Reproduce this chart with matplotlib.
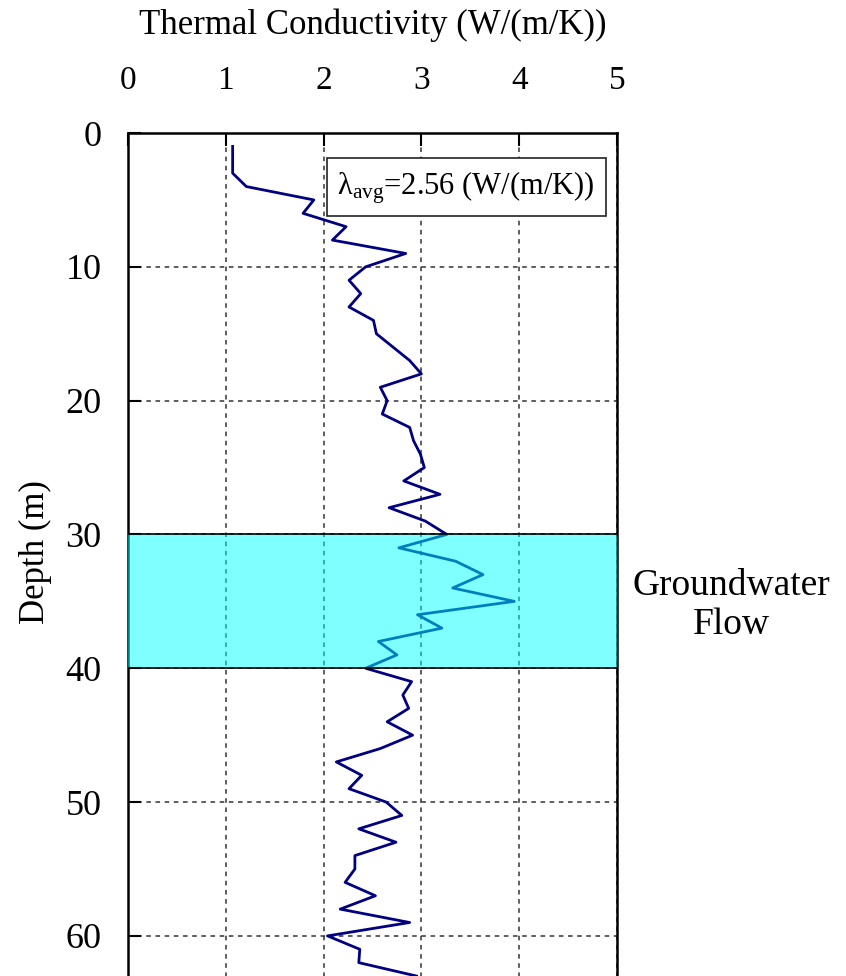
import matplotlib
matplotlib.use('Agg')
import matplotlib.pyplot as plt

plt.rcParams['font.family'] = ['Liberation Serif', 'DejaVu Serif']
plt.rcParams['mathtext.fontset'] = 'custom'
plt.rcParams['mathtext.rm'] = 'Liberation Serif'
plt.rcParams['mathtext.it'] = 'Liberation Serif:italic'

# thermal conductivity profile
depth = [1, 3, 4, 5, 6, 7, 8, 9, 10, 11, 12, 13, 14, 15, 16, 17, 18, 19, 20,
         21, 22, 23, 24, 25, 26, 27, 28, 29, 30, 31, 32, 33, 34, 35, 36, 37,
         38, 39, 40, 41, 42, 43, 44, 45, 46, 47, 48, 49, 50, 51, 52, 53, 54,
         55, 56, 57, 58, 59, 60, 61, 62, 63]
conductivity = [1.07, 1.07, 1.21, 1.90, 1.79, 2.23, 2.09, 2.84, 2.43, 2.26,
                2.38, 2.26, 2.51, 2.54, 2.71, 2.88, 3.00, 2.58, 2.65, 2.60,
                2.88, 2.92, 2.99, 3.03, 2.82, 3.19, 2.67, 3.04, 3.26, 2.77,
                3.35, 3.63, 3.32, 3.95, 2.96, 3.21, 2.56, 2.75, 2.43, 2.90,
                2.81, 2.87, 2.65, 2.91, 2.58, 2.13, 2.39, 2.26, 2.64, 2.80,
                2.36, 2.74, 2.32, 2.32, 2.22, 2.53, 2.17, 2.88, 2.04, 2.37,
                2.36, 2.95]
avg_value = 2.56
flow_top, flow_bottom = 30, 40
x_ticks = [0, 1, 2, 3, 4, 5]
y_ticks = [0, 10, 20, 30, 40, 50, 60]

fig = plt.figure(figsize=(8.46, 9.76), dpi=100)
# axes runs past the bottom edge of the figure, as in the original
ax = fig.add_axes([0.1513, -0.096, 0.578, 0.9597])

ax.plot(conductivity, depth, color='#000080', lw=2.0, zorder=3)
ax.axhspan(flow_top, flow_bottom, facecolor=(0, 1, 1), alpha=0.5, lw=0, zorder=4)
ax.axhline(flow_top, color='black', lw=1.2, zorder=5)
ax.axhline(flow_bottom, color='black', lw=1.2, zorder=5)

ax.set_xlim(0, 5)
ax.set_ylim(70, 0)
ax.set_xticks(x_ticks)
ax.set_yticks(y_ticks)
ax.xaxis.tick_top()
ax.xaxis.set_label_position('top')
ax.tick_params(axis='both', direction='in', length=9, width=1.5)
ax.tick_params(axis='x', labelsize=24, pad=27)
ax.tick_params(axis='y', labelsize=26, pad=19)
ax.grid(True, ls=(0, (3, 3)), color='#333333', lw=1.1, zorder=1)
for s in ax.spines.values():
    s.set_linewidth(1.8)

ax.set_xlabel('Thermal Conductivity (W/(m/K))', fontsize=25, labelpad=22)
ax.set_ylabel('Depth (m)', fontsize=25)
ax.yaxis.set_label_coords(-0.155, 0.553)

ax.text(0.428, 0.942, r'$\mathrm{λ_{avg}}$=%.2f (W/(m/K))' % avg_value,
        transform=ax.transAxes, fontsize=22, ha='left', va='center',
        zorder=6,
        bbox=dict(boxstyle='square,pad=0.35', fc='white', ec='#222222', lw=1.2))

fig.text(0.865, 0.380, 'Groundwater\nFlow', fontsize=27, ha='center',
         va='center', linespacing=1.17)

fig.savefig('out.png', dpi=100)
